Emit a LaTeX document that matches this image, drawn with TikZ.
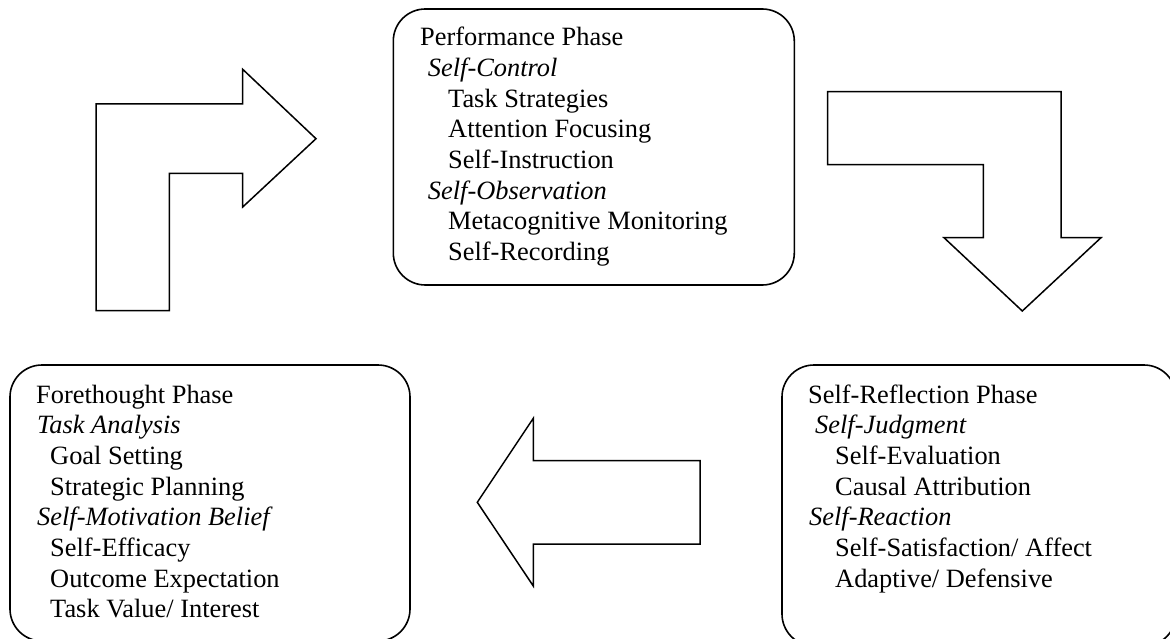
\documentclass[tikz,border=0pt]{standalone}
\usepackage{fontspec}
\setmainfont{Liberation Serif}
\begin{document}
\begin{tikzpicture}[x=1pt,y=-1pt,
  phasebox/.style={draw, line width=1.6pt, rounded corners=32pt, inner sep=0pt},
  blockarrow/.style={draw, line width=1.5pt, line join=miter},
  phasetext/.style={anchor=base west, inner sep=0pt, font=\fontsize{26.4}{30.7}\selectfont}]
\useasboundingbox (0,0) rectangle (1170,639);
\clip (0,0) rectangle (1170,639);

% boxes
\node[phasebox, minimum width=401pt, minimum height=276pt] (perf) at (593.8,147) {};
\node[phasebox, minimum width=400pt, minimum height=276pt] (fore) at (210,503) {};
\node[phasebox, minimum width=394pt, minimum height=281pt] (refl) at (979,505.5) {};

% texts
\node[phasetext] (perftxt) at (420,45.7) {\begin{tabular}[t]{@{}l@{}}
Performance Phase\\
\hspace*{7.7pt}\textit{Self-Control}\\
\hspace*{28pt}Task Strategies\\
\hspace*{28pt}Attention Focusing\\
\hspace*{28pt}Self-Instruction\\
\hspace*{7.7pt}\textit{Self-Observation}\\
\hspace*{28pt}Metacognitive Monitoring\\
\hspace*{28pt}Self-Recording
\end{tabular}};

\node[phasetext] (foretxt) at (36,403) {\begin{tabular}[t]{@{}l@{}}
Forethought Phase\\
\hspace*{1pt}\textit{Task Analysis}\\
\hspace*{14pt}Goal Setting\\
\hspace*{14pt}Strategic Planning\\
\hspace*{1pt}\textit{Self-Motivation Belief}\\
\hspace*{14pt}Self-Efficacy\\
\hspace*{14pt}Outcome Expectation\\
\hspace*{14pt}Task Value/ Interest
\end{tabular}};

\node[phasetext] (refltxt) at (808,403) {\begin{tabular}[t]{@{}l@{}}
Self-Reflection Phase\\
\hspace*{7pt}\textit{Self-Judgment}\\
\hspace*{27pt}Self-Evaluation\\
\hspace*{27pt}Causal Attribution\\
\hspace*{1pt}\textit{Self-Reaction}\\
\hspace*{27pt}Self-Satisfaction/ Affect\\
\hspace*{27pt}Adaptive/ Defensive
\end{tabular}};

% block arrows
\draw[blockarrow] (96,310.7) -- (96,104) -- (242.7,104) -- (242.7,69.3) -- (316,138.7)
  -- (242.7,207) -- (242.7,173.3) -- (169.3,173.3) -- (169.3,310.7) -- cycle;
\draw[blockarrow] (827.7,91.7) -- (1061,91.7) -- (1061,237.7) -- (1101,237.7) -- (1022.3,311)
  -- (944,237.7) -- (983.3,237.7) -- (983.3,164.7) -- (827.7,164.7) -- cycle;
\draw[blockarrow] (477.3,502.3) -- (533.3,418.3) -- (533.3,460.7) -- (700,460.7)
  -- (700,544) -- (533.3,544) -- (533.3,586) -- cycle;
\end{tikzpicture}
\end{document}
